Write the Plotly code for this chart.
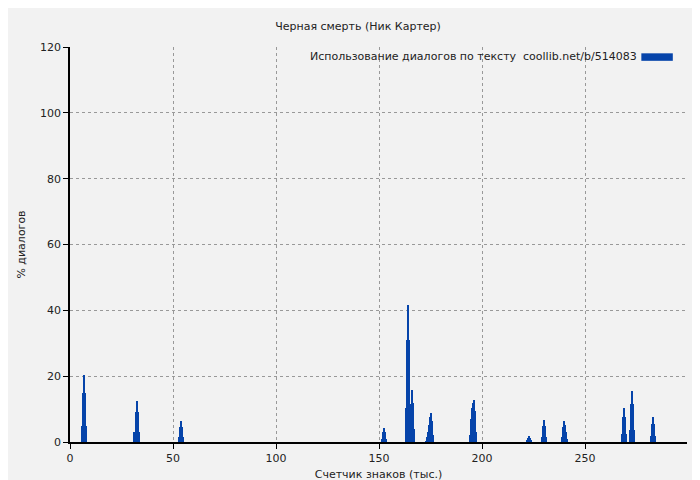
import plotly.graph_objects as go

# cluster data: x positions (thousand chars) and % dialogues
x_vals = [6.0, 6.4, 6.9, 7.4, 7.9,
          31.3, 31.8, 32.3, 32.8, 33.3,
          53.0, 53.5, 54.0, 54.5, 55.0,
          151.3, 151.8, 152.3, 152.8, 153.3,
          163.1, 163.6, 164.1, 164.6, 165.1, 165.6, 166.0, 166.5, 167.0,
          172.8, 173.3, 173.8, 174.3, 174.8, 175.3, 175.8, 176.3,
          194.2, 194.7, 195.2, 195.7, 196.2, 196.7, 197.2,
          221.8, 222.3, 222.8, 223.3, 223.8,
          229.3, 229.8, 230.3, 230.8, 231.3,
          238.8, 239.3, 239.8, 240.3, 240.8, 241.3,
          268.0, 268.5, 269.0, 269.5, 270.0,
          271.9, 272.4, 272.9, 273.4, 273.9,
          281.9, 282.4, 282.9, 283.4, 283.9]
y_vals = [5, 15, 20.5, 15, 5,
          3, 9, 12.5, 9, 3,
          1.5, 4.5, 6.4, 4.5, 1.5,
          1, 3, 4.2, 3, 1,
          10.3, 31, 41.7, 31, 10.3, 11.5, 15.8, 11.9, 4,
          0.3, 1.5, 3, 5.1, 7.6, 8.8, 6.4, 2.1,
          2.1, 7, 10.3, 11.9, 12.8, 9.5, 3,
          0.6, 1.2, 1.8, 1.2, 0.6,
          1.5, 4.9, 6.7, 4.9, 1.5,
          1.5, 4.6, 6.4, 5.2, 3, 0.9,
          2.4, 7.6, 10.3, 7.6, 2.4,
          3.6, 11.6, 15.5, 11.6, 3.6,
          1.8, 5.5, 7.6, 5.5, 1.8]

x_ticks = [0, 50, 100, 150, 200, 250]
y_ticks = [0, 20, 40, 60, 80, 100, 120]
title = "Черная смерть (Ник Картер)"
legend_text = "Использование диалогов по тексту  coollib.net/b/514083"
color = "#0644AA"

fig = go.Figure(go.Bar(x=x_vals, y=y_vals, width=0.5, marker=dict(color=color, line=dict(width=0)),
                       showlegend=False))
font = dict(family="DejaVu Sans", size=11, color="#222")
fig.update_layout(
    width=700, height=480, paper_bgcolor="#F2F2F2", plot_bgcolor="#F2F2F2",
    margin=dict(l=62, r=21, t=39, b=46, autoexpand=False), font=font, bargap=0,
    title=dict(text=title, x=0.5, xanchor="center", y=0.962, yanchor="middle", font=font),
    xaxis=dict(range=[0, 299.5], tickvals=x_ticks, showgrid=True, gridcolor="#999", griddash="dot",
               showline=True, linecolor="black", linewidth=1.5, ticks="outside", ticklen=5, tickcolor="black",
               zeroline=False, automargin=False, tickfont=font,
               title=dict(text="Счетчик знаков (тыс.)", standoff=6, font=font)),
    yaxis=dict(range=[0, 120], tickvals=y_ticks, showgrid=True, gridcolor="#999", griddash="dot",
               showline=True, linecolor="black", linewidth=1.5, ticks="outside", ticklen=5, tickcolor="black",
               zeroline=False, automargin=False, tickfont=font,
               title=dict(text="% диалогов", standoff=12, font=font)),
)
fig.add_annotation(text=legend_text, xref="paper", yref="paper", x=0.923, y=0.975,
                   xanchor="right", yanchor="middle", showarrow=False, font=font)
fig.add_shape(type="rect", xref="paper", yref="paper", x0=0.926, x1=0.977, y0=0.965, y1=0.984,
              fillcolor=color, line=dict(width=0))
fig.write_html("out.html")
